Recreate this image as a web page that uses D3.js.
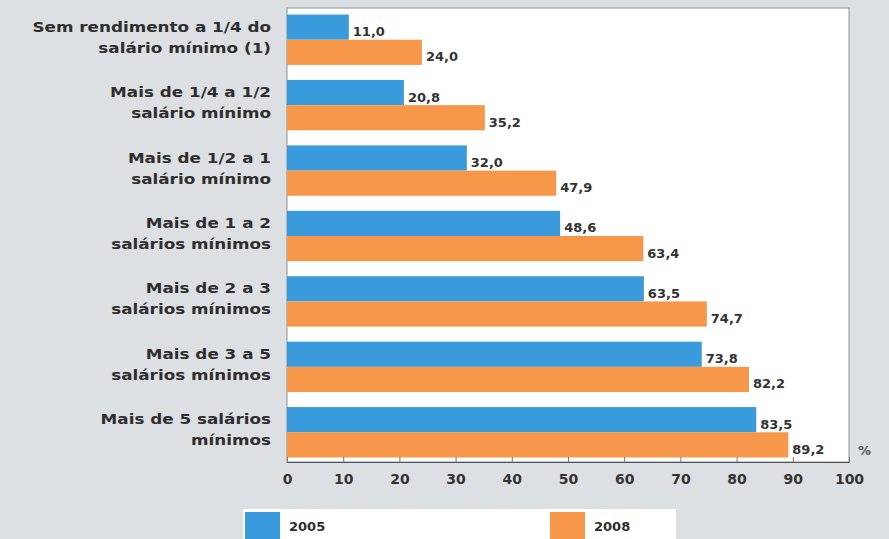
<!DOCTYPE html>
<html><head><meta charset="utf-8">
<script src="https://cdn.jsdelivr.net/npm/d3@7"></script>
<style>
html,body{margin:0;padding:0;background:#dce0e3;}
svg{display:block;font-family:"DejaVu Sans",sans-serif;}
</style></head>
<body><svg id="c" width="889" height="539"></svg>
<script>
const categories = [
  ["Sem rendimento a 1/4 do","salário mínimo (1)"],
  ["Mais de 1/4 a 1/2","salário mínimo"],
  ["Mais de 1/2 a 1","salário mínimo"],
  ["Mais de 1 a 2","salários mínimos"],
  ["Mais de 2 a 3","salários mínimos"],
  ["Mais de 3 a 5","salários mínimos"],
  ["Mais de 5 salários","mínimos"]
];
const values2005 = [11.0, 20.8, 32.0, 48.6, 63.5, 73.8, 83.5];
const values2008 = [24.0, 35.2, 47.9, 63.4, 74.7, 82.2, 89.2];
const seriesNames = ["2005","2008"];
const colors = ["#3a9bdc","#f7974a"];
const ticks = [0,10,20,30,40,50,60,70,80,90,100];

const svg = d3.select("#c");
const x = d3.scaleLinear().domain([0,100]).range([287,849]);
const y = d3.scaleBand().domain(d3.range(categories.length)).range([8,464]).paddingInner(0.23).paddingOuter(0.1);

svg.append("rect").attr("x",287).attr("y",8).attr("width",562).attr("height",454)
  .attr("fill","#ffffff").attr("stroke","#8a8f94").attr("stroke-width",1);

const fmt = v => v.toFixed(1).replace(".",",");
const series = [values2005, values2008];
series.forEach((vals,si)=>{
  const bh = y.bandwidth()/2;
  svg.append("g").selectAll("rect").data(vals).join("rect")
    .attr("x",x(0)).attr("y",(d,i)=>y(i)+si*bh)
    .attr("width",d=>x(d)-x(0)).attr("height",bh)
    .attr("fill",colors[si]);
  svg.append("g").selectAll("text").data(vals).join("text")
    .attr("x",d=>x(d)+4).attr("y",(d,i)=>y(i)+si*bh+bh/2+9)
    .attr("font-size",13).attr("font-weight","bold").attr("fill","#333")
    .text(d=>fmt(d));
});

const lab = svg.append("g").selectAll("text").data(categories).join("text")
  .attr("text-anchor","end").attr("font-size",14).attr("font-weight","bold").attr("fill","#2e2e2e")
  .attr("transform",(d,i)=>`translate(271,${y(i)+y.bandwidth()/2}) scale(1.2,1)`);
lab.each(function(d,i){
  const t = d3.select(this);
  t.append("tspan").attr("x",0).attr("y",-8).text(d[0]);
  t.append("tspan").attr("x",0).attr("y",13).text(d[1]);
});

const ax = svg.append("g").attr("transform","translate(0,462)")
  .call(d3.axisBottom(x).tickValues(ticks).tickSize(-5).tickPadding(12).tickFormat(d=>d));
ax.select(".domain").attr("stroke","#555");
ax.selectAll(".tick line").attr("stroke","#777");
ax.selectAll("text").attr("font-size",14).attr("font-weight","bold").attr("fill","#333")
  .attr("font-family","DejaVu Sans, sans-serif");
svg.append("text").attr("x",858).attr("y",455).attr("font-size",13).attr("font-weight","bold").attr("fill","#555").text("%");

svg.append("rect").attr("x",243).attr("y",509).attr("width",433).attr("height",32).attr("fill","#ffffff");
const legX = [245,550];
seriesNames.forEach((s,i)=>{
  svg.append("rect").attr("x",legX[i]).attr("y",512).attr("width",35).attr("height",30).attr("fill",colors[i]);
  svg.append("text").attr("x",legX[i]+44).attr("y",531).attr("font-size",13).attr("font-weight","bold").attr("fill","#2e2e2e").text(s);
});
</script></body></html>
